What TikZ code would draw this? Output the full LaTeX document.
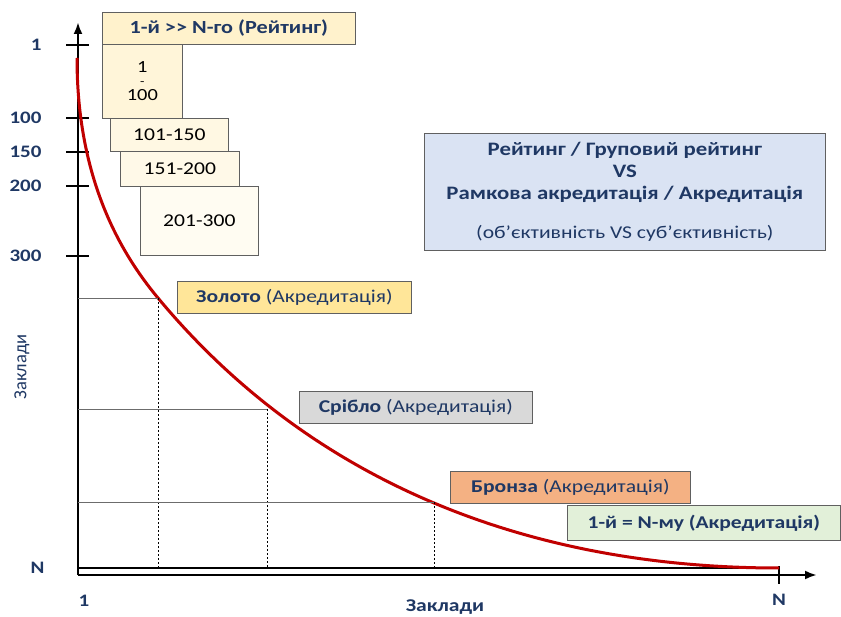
\documentclass[tikz,border=0pt]{standalone}
\usepackage{fontspec}
\setmainfont{Carlito}[FakeStretch=1.2]
\newfontfamily\uprightlab{Carlito}
\usetikzlibrary{arrows.meta, positioning}

\definecolor{navy}{HTML}{1F3864}
\definecolor{curvered}{HTML}{C00000}
\definecolor{headfill}{HTML}{FFF2CC}
\definecolor{infofill}{HTML}{DAE3F3}
\definecolor{goldfill}{HTML}{FFE699}
\definecolor{silverfill}{HTML}{D9D9D9}
\definecolor{bronzefill}{HTML}{F4B183}
\definecolor{equalfill}{HTML}{E2F0D9}

\begin{document}
\begin{tikzpicture}[
						x=1pt, y=-1pt,
						axis/.style = {line width=2.4pt, -{Latex[length=12pt,width=9pt]}},
						axtick/.style = {line width=1.6pt},
						curve/.style = {draw=curvered, line width=3pt},
						guide/.style = {draw=gray!85!black, line width=0.9pt},
						drop/.style = {draw, line width=0.6pt, dash pattern=on 2pt off 2pt},
						box/.style = {draw=gray!75!black, line width=0.7pt, anchor=north west, inner sep=0pt, text=navy, font=\fontsize{18}{21}\selectfont},
						rank/.style = {box, text=black, font=\fontsize{18}{15}\selectfont},
						numlab/.style = {text=navy, font=\bfseries\fontsize{17.5}{20}\selectfont}
					]
\useasboundingbox (0,0) rectangle (841,617);

% axes
\coordinate (o) at (78,575);
\coordinate (ytop) at (78,22);
\coordinate (xend) at (817,575);
\coordinate (nend) at (779,568);
\draw[axis] (o) -- (ytop);
\draw[axis] (o) -- (xend);
\draw[line width=1.1pt] (78,568) -- (nend);
\draw[axtick] (779,566) -- (779,584);
\foreach \y/\lab in {45/1, 118/100, 152/150, 186/200, 256/300}{
	\draw[axtick] (66,\y) -- (89,\y);
	\node[numlab, anchor=east] (y\lab) at (45,\y) {\lab};
}
\node[numlab, anchor=east] (yN) at (48,568) {N};
\node[numlab] (x1) at (84,601) {1};
\node[numlab] (xN) at (779,600) {N};
\node[numlab, font=\bfseries\fontsize{18}{20}\selectfont] (xlab) at (445,607) {Заклади};
\node[text=navy, rotate=90, font=\uprightlab\fontsize{18.5}{20}\selectfont] (ylab) at (22,367) {Заклади};

% curve
\coordinate (ctop) at (77,58);
\coordinate (pg) at (158,298);
\coordinate (ps) at (267,409);
\coordinate (pb) at (434,502);
\draw[curve] (ctop) .. controls +(0,120) and +(-38.4,-46.2) .. (pg)
	.. controls +(153.6,184.8) and +(-250,0) .. (nend);

\foreach \p in {pg, ps, pb}{
	\draw[guide] (o |- \p) -- (\p);
	\draw[drop] (\p) -- (\p |- nend);
}

% ranking boxes
\node[box, fill=headfill, minimum width=253pt, minimum height=32pt, font=\bfseries\fontsize{18.5}{21}\selectfont] (head) at (102,12) {1-й >{}> N-го (Рейтинг)};
\node[rank, fill=headfill!75, minimum width=80pt, minimum height=74pt, align=center, font=\fontsize{17}{16}\selectfont] (r1) at (102,44) {1\\[-3pt]{\fontsize{12}{12}\selectfont -}\\[-1pt]100};
\node[rank, fill=headfill!55, minimum width=118pt, minimum height=33pt] (r2) at (110,118) {101-150};
\node[rank, fill=headfill!45, minimum width=119pt, minimum height=35pt] (r3) at (120,151) {151-200};
\node[rank, fill=headfill!25, minimum width=118pt, minimum height=69pt] (r4) at (140,186) {201-300};

% info
\node[box, fill=infofill, minimum width=401pt, minimum height=117pt, align=center, font=\bfseries\fontsize{19}{22}\selectfont] (info) at (424,133)
	{Рейтинг / Груповий рейтинг\\VS\\Рамкова акредитація / Акредитація\\[17pt]{\mdseries\fontsize{18}{20}\selectfont(об’єктивність VS суб’єктивність)}};

% accreditation boxes
\node[box, fill=goldfill, minimum width=234pt, minimum height=32pt] (gold) at (177,281) {\textbf{Золото} (Акредитація)};
\node[box, fill=silverfill, minimum width=233pt, minimum height=32pt] (silver) at (299,391) {\textbf{Срібло} (Акредитація)};
\node[box, fill=bronzefill, minimum width=240pt, minimum height=32pt] (bronze) at (450,471) {\textbf{Бронза} (Акредитація)};
\node[box, fill=equalfill, minimum width=273pt, minimum height=35pt, font=\bfseries\fontsize{18}{21}\selectfont] (equal) at (567,505) {1-й = N-му (Акредитація)};
\end{tikzpicture}
\end{document}
